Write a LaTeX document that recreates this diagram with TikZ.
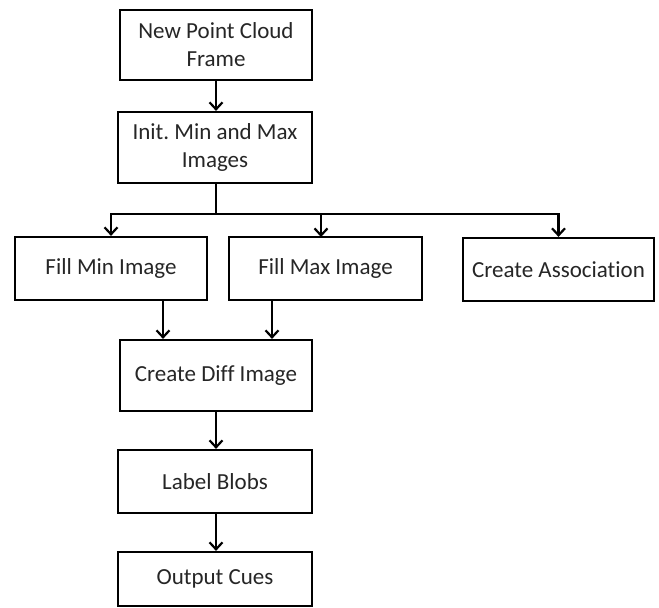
\documentclass[tikz,border=0pt]{standalone}
\usepackage{fontspec}
\setmainfont{Carlito}[Ligatures=NoCommon]
\usetikzlibrary{arrows.meta}
\frenchspacing
\begin{document}
\begin{tikzpicture}[x=1pt,y=-1pt,
  stepbox/.style={draw=black,line width=2.2pt,fill=white,align=center,
    inner sep=0pt,text=black!85,font=\fontsize{23}{28}\selectfont},
  flow/.style={line width=2.2pt,-{Straight Barb[length=7pt,width=13pt,line width=2.2pt]}},
  plain/.style={line width=2.2pt}]
\useasboundingbox (0,0) rectangle (659,608);
% process boxes
\node[stepbox,minimum width=192pt,minimum height=70pt] (frame) at (216,45) {New Point Cloud\\Frame};
\node[stepbox,minimum width=194pt,minimum height=71pt] (init) at (215,147.5) {Init. Min and Max\\Images};
\node[stepbox,minimum width=192pt,minimum height=63pt] (fillmin) at (111,268.5) {Fill Min Image};
\node[stepbox,minimum width=193pt,minimum height=63pt] (fillmax) at (325.5,268.5) {Fill Max Image};
\node[stepbox,minimum width=191pt,minimum height=63pt] (assoc) at (558.5,269.5) {Create Association};
\node[stepbox,minimum width=192pt,minimum height=71pt] (diff) at (216,375.5) {Create Diff Image};
\node[stepbox,minimum width=194pt,minimum height=63pt] (blobs) at (215,481.5) {Label Blobs};
\node[stepbox,minimum width=194pt,minimum height=54pt] (out) at (215,579) {Output Cues};
% connectors
\draw[flow] (frame) -- (frame.south |- init.north);
\coordinate (split) at (216,214);
\draw[plain] (init.south -| split) -- (split);
\draw[flow] (split) -| (fillmin.north);
\coordinate (maxin) at (321,237);
\draw[flow] (split) -| (maxin);
\draw[flow] (split) -| (assoc.north);
\coordinate (minout) at (163,300);
\coordinate (maxout) at (272,300);
\draw[flow] (minout) -- (minout |- diff.north);
\draw[flow] (maxout) -- (maxout |- diff.north);
\draw[flow] (diff.south -| split) -- (blobs.north -| split);
\draw[flow] (blobs.south -| split) -- (out.north -| split);
\end{tikzpicture}
\end{document}
